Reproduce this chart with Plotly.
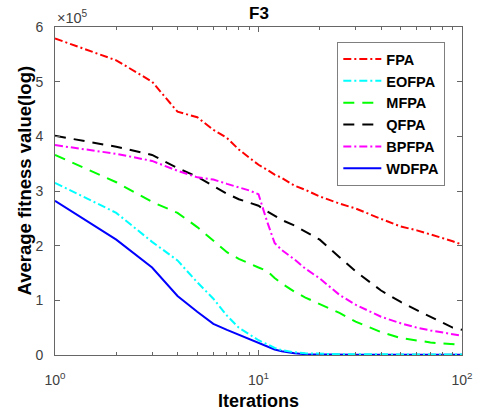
import plotly.graph_objects as go

# Iterations (x) and average fitness values (in units of 1e5)
iters = [1, 2, 3, 4, 5, 6, 7, 8, 9, 10, 11, 12, 13, 15, 17, 20, 25, 30, 40, 50, 60, 70, 80, 90, 100]

fpa   = [5.79, 5.39, 5.00, 4.45, 4.35, 4.12, 3.97, 3.76, 3.61, 3.48, 3.39, 3.30, 3.24, 3.10, 3.02,
         2.90, 2.77, 2.68, 2.49, 2.35, 2.28, 2.21, 2.14, 2.08, 2.02]
eofpa = [3.15, 2.60, 2.07, 1.73, 1.33, 1.03, 0.72, 0.50, 0.38, 0.27, 0.20, 0.13, 0.09, 0.05, 0.03,
         0.02, 0.015, 0.012, 0.01, 0.01, 0.01, 0.01, 0.01, 0.01, 0.01]
mfpa  = [3.66, 3.16, 2.80, 2.60, 2.34, 2.09, 1.88, 1.76, 1.67, 1.60, 1.54, 1.41, 1.31, 1.16, 1.05,
         0.93, 0.77, 0.61, 0.42, 0.31, 0.26, 0.23, 0.21, 0.20, 0.19]
qfpa  = [4.01, 3.81, 3.66, 3.42, 3.26, 3.10, 2.95, 2.85, 2.78, 2.73, 2.63, 2.54, 2.47, 2.37, 2.25,
         2.11, 1.79, 1.53, 1.18, 0.97, 0.82, 0.70, 0.59, 0.50, 0.46]
bpfpa = [3.84, 3.68, 3.55, 3.37, 3.25, 3.21, 3.13, 3.07, 3.01, 2.94, 2.45, 2.05, 1.92, 1.75, 1.58,
         1.40, 1.10, 0.92, 0.70, 0.58, 0.50, 0.45, 0.42, 0.38, 0.35]
wdfpa = [2.82, 2.11, 1.60, 1.08, 0.79, 0.57, 0.46, 0.37, 0.29, 0.22, 0.16, 0.10, 0.07, 0.03, 0.015,
         0.01, 0.005, 0.005, 0.005, 0.005, 0.005, 0.005, 0.005, 0.005, 0.005]

y_ticks = [0, 1, 2, 3, 4, 5, 6]
y_ticktext = ["0", "1", "2", "3", "4", "5", "6"]
x_ticks = [1, 10, 100]
x_ticktext = ["10<sup>0</sup>", "10<sup>1</sup>", "10<sup>2</sup>"]
x_minor = [2, 3, 4, 5, 6, 7, 8, 9, 20, 30, 40, 50, 60, 70, 80, 90]

FONT = "Liberation Sans, Arial, sans-serif"
DASHDOT = "8px,3px,2px,3px"
DASH = "11px,8px"

series = [
    ("WDFPA", wdfpa, "#0000ff", "solid", 6),
    ("FPA", fpa, "#ff0000", DASHDOT, 1),
    ("EOFPA", eofpa, "#00ffff", DASHDOT, 2),
    ("MFPA", mfpa, "#00ff00", DASH, 3),
    ("QFPA", qfpa, "#000000", DASH, 4),
    ("BPFPA", bpfpa, "#ff00ff", DASHDOT, 5),
]

fig = go.Figure()
for name, vals, color, dash, rank in series:
    fig.add_trace(go.Scatter(
        x=iters, y=vals, mode="lines", name=name, legendrank=rank,
        line=dict(color=color, width=2, dash=dash),
    ))

axis_color = "#666666"
fig.update_layout(
    width=485, height=416,
    margin=dict(l=55, r=18, t=27, b=61),
    paper_bgcolor="white", plot_bgcolor="white",
    font=dict(family=FONT, size=14, color="#404040"),
    showlegend=True,
    legend=dict(
        x=0.959, y=0.954, xanchor="right", yanchor="top",
        bgcolor="white", bordercolor="#7f7f7f", borderwidth=1,
        font=dict(family=FONT, size=14.5, color="#000000", weight="bold"),
        itemwidth=38, tracegroupgap=0,
    ),
    xaxis=dict(
        type="log", range=[0, 2], showgrid=False, zeroline=False,
        showline=True, linecolor=axis_color, linewidth=1, mirror="ticks",
        ticks="inside", ticklen=5, tickcolor=axis_color,
        tickvals=x_ticks, ticktext=x_ticktext, ticklabelstandoff=12,
        tickfont=dict(family=FONT, size=14, color="#404040"),
        minor=dict(tickvals=x_minor, ticks="inside", ticklen=3, tickcolor=axis_color, showgrid=False),
    ),
    yaxis=dict(
        range=[0, 6], showgrid=False, zeroline=False,
        showline=True, linecolor=axis_color, linewidth=1, mirror="ticks",
        ticks="inside", ticklen=5, tickcolor=axis_color,
        tickvals=y_ticks, ticktext=y_ticktext, ticklabelstandoff=8,
        tickfont=dict(family=FONT, size=14, color="#404040"),
    ),
    annotations=[
        dict(text="<b>F3</b>", xref="paper", yref="paper", x=0.5, y=1, xanchor="center", yanchor="middle",
             yshift=14, showarrow=False, font=dict(family=FONT, size=17, color="#000000")),
        dict(text="×10<sup>5</sup>", xref="paper", yref="paper", x=0, y=1, xanchor="left", yanchor="middle",
             yshift=10, showarrow=False, font=dict(family=FONT, size=14.5, color="#404040")),
        dict(text="<b>Iterations</b>", xref="paper", yref="paper", x=0.5, y=0, xanchor="center", yanchor="middle",
             yshift=-46, showarrow=False, font=dict(family=FONT, size=18, color="#000000")),
        dict(text="<b>Average fitness value(log)</b>", xref="paper", yref="paper", x=0, y=0.532,
             xanchor="center", yanchor="middle", xshift=-30, textangle=-90, showarrow=False,
             font=dict(family=FONT, size=18.5, color="#000000")),
    ],
)

fig.write_html("out.html")
